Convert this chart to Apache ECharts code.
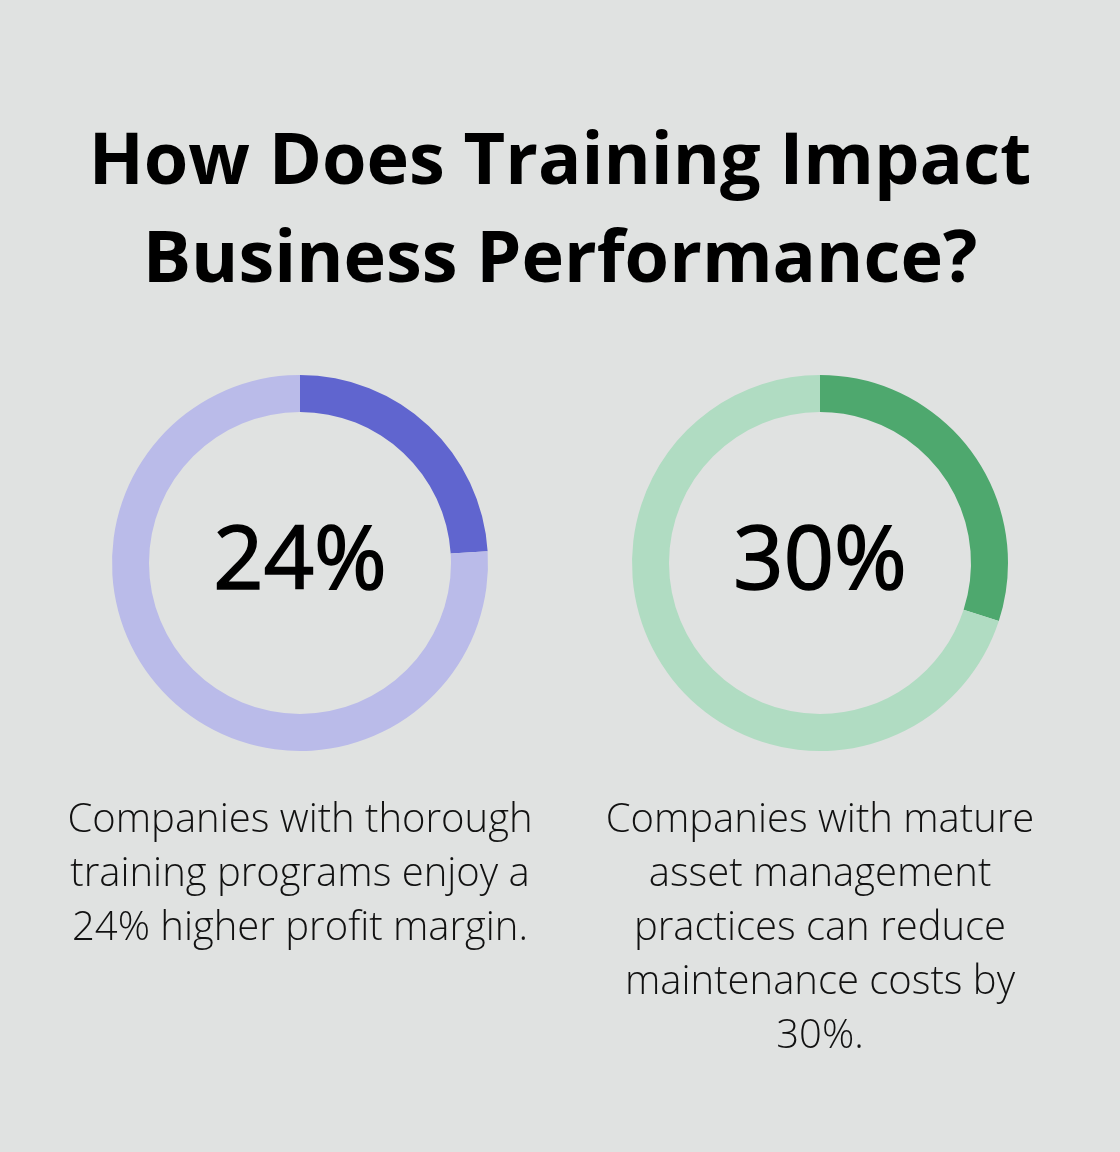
<!DOCTYPE html>
<html>
<head>
<meta charset="utf-8">
<script src="https://cdn.jsdelivr.net/npm/echarts@6/dist/echarts.min.js"></script>
<style>
html,body{margin:0;padding:0;background:#e0e2e1;}
#c{width:1120px;height:1152px;}
</style>
</head>
<body>
<div id="c"></div>
<script>
var titleLines = ['How Does Training Impact', 'Business Performance?'];
var percents = [24, 30];
var descriptions = [
  'Companies with thorough\ntraining programs enjoy a\n24% higher profit margin.',
  'Companies with mature\nasset management\npractices can reduce\nmaintenance costs by\n30%.'
];
var darkColors = ['#6065cf', '#4ea86e'];
var lightColors = ['#babbe9', '#b0dcc2'];

var centersX = [300, 820];
var centerY = 563;

var chart = echarts.init(document.getElementById('c'), null, {renderer: 'canvas'});

var series = percents.map(function (p, i) {
  return {
    type: 'pie',
    center: [centersX[i], centerY],
    radius: [151, 188],
    startAngle: 90,
    clockwise: true,
    silent: true,
    animation: false,
    label: {show: false},
    labelLine: {show: false},
    itemStyle: {borderWidth: 0},
    data: [
      {value: p, itemStyle: {color: darkColors[i]}},
      {value: 100 - p, itemStyle: {color: lightColors[i]}}
    ]
  };
});

var graphics = [];
titleLines.forEach(function (t, i) {
  graphics.push({
    type: 'text',
    style: {
      text: t, x: 560, y: 127 + i * 98,
      textAlign: 'center',
      font: 'bold 72px "Open Sans"', fill: '#000'
    }
  });
});
percents.forEach(function (p, i) {
  graphics.push({
    type: 'text',
    style: {
      text: p + '%', x: centersX[i], y: 520,
      textAlign: 'center',
      font: '400 88px "Open Sans"', fill: '#000',
      stroke: '#000', lineWidth: 1.6
    }
  });
  var lines = descriptions[i].split('\n');
  lines.forEach(function (ln, j) {
    graphics.push({
      type: 'text',
      style: {
        text: ln, x: centersX[i], y: 801 + j * 53.8,
        textAlign: 'center',
        font: '300 40px "Open Sans"', fill: '#111'
      }
    });
  });
});

chart.setOption({
  backgroundColor: '#e0e2e1',
  animation: false,
  series: series,
  graphic: graphics
});
</script>
</body>
</html>
